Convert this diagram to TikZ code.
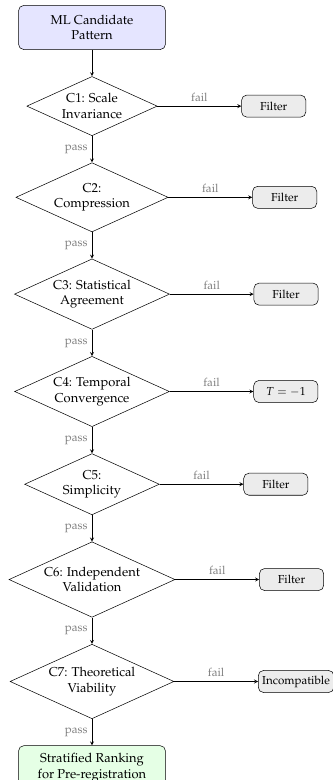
\documentclass[tikz,border=0pt]{standalone}
\usepackage[T1]{fontenc}
\usepackage{mathpazo}
\usetikzlibrary{positioning,shapes.geometric}

\begin{document}
\begin{tikzpicture}
    [node distance=20.5pt and 65pt,>=stealth,every node/.style={align=center},
    startstop/.style={rectangle,draw,rounded corners=4pt,minimum width=4cm,
    minimum height=1.2cm},
    check/.style={diamond,draw,aspect=2.2,inner sep=1.8pt},
    outcome/.style={rectangle,draw,fill=gray!15,rounded corners=4pt,
    minimum width=1.75cm,minimum height=0.6cm,inner xsep=3pt,font=\small},
    lbl/.style={font=\small,text=gray}]
    \useasboundingbox (-71.3pt,21.3pt) rectangle (186pt,-583.2pt);
    % main line
    \node[startstop,fill=blue!10] (in) at (0,0) {ML Candidate\\Pattern};
    \node[check] (c1) [below=of in] {C1: Scale\\Invariance};
    \node[check] (c2) [below=of c1] {C2:\\Compression};
    \node[check] (c3) [below=of c2] {C3: Statistical\\Agreement};
    \node[check] (c4) [below=of c3] {C4: Temporal\\Convergence};
    \node[check] (c5) [below=of c4] {C5:\\Simplicity};
    \node[check] (c6) [below=of c5] {C6: Independent\\Validation};
    \node[check] (c7) [below=of c6] {C7: Theoretical\\Viability};
    \node[startstop,fill=green!10] (out) [below=of c7]
      {Stratified Ranking\\for Pre-registration};
    \draw[->] (in) -- (c1);
    \draw[->] (c1) -- node[lbl,left] {pass} (c2);
    \draw[->] (c2) -- node[lbl,left] {pass} (c3);
    \draw[->] (c3) -- node[lbl,left] {pass} (c4);
    \draw[->] (c4) -- node[lbl,left] {pass} (c5);
    \draw[->] (c5) -- node[lbl,left] {pass} (c6);
    \draw[->] (c6) -- node[lbl,left] {pass} (c7);
    \draw[->] (c7) -- node[lbl,left] {pass} (out);
    % fail branches
    \node[outcome] (f1) [right=of c1] {Filter};
    \node[outcome] (f2) [right=of c2] {Filter};
    \node[outcome] (f3) [right=of c3] {Filter};
    \node[outcome] (f4) [right=of c4] {$T=-1$};
    \node[outcome] (f5) [right=of c5] {Filter};
    \node[outcome] (f6) [right=of c6] {Filter};
    \node[outcome] (f7) [right=of c7] {Incompatible};
    \draw[->] (c1) -- node[lbl,above] {fail} (f1);
    \draw[->] (c2) -- node[lbl,above] {fail} (f2);
    \draw[->] (c3) -- node[lbl,above] {fail} (f3);
    \draw[->] (c4) -- node[lbl,above] {fail} (f4);
    \draw[->] (c5) -- node[lbl,above] {fail} (f5);
    \draw[->] (c6) -- node[lbl,above] {fail} (f6);
    \draw[->] (c7) -- node[lbl,above] {fail} (f7);
\end{tikzpicture}
\end{document}
